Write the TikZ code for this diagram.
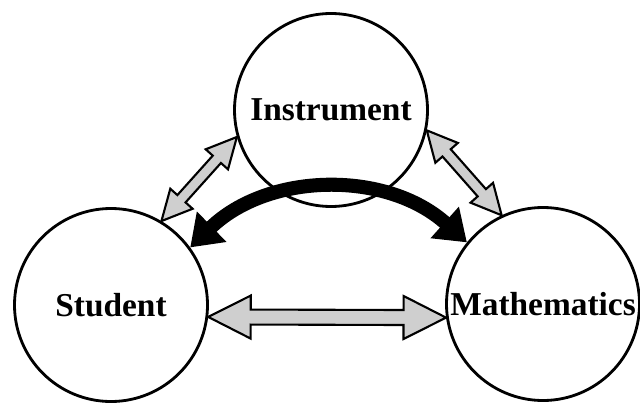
\documentclass[tikz,border=0pt]{standalone}
\usepackage{fontspec}
\setmainfont{Liberation Serif}
\usetikzlibrary{arrows.meta,positioning,calc}
\definecolor{grisflecha}{HTML}{CFCFCF}

% block arrow between two points: #1 start, #2 end, #3 head length, #4 head half width, #5 shaft half width
\newcommand{\grayarrow}[5]{%
  \filldraw[fill=grisflecha, draw=black, line width=1.2pt, line join=miter]
    (#1) -- ($(#1)!#3!(#2)!#4!90:(#2)$) -- ($(#1)!#3!(#2)!#5!90:(#2)$)
    -- ($(#2)!#3!(#1)!#5!90:(#2)$) -- ($(#2)!#3!(#1)!#4!90:(#2)$)
    -- (#2) -- ($(#2)!#3!(#1)!#4!-90:(#2)$) -- ($(#2)!#3!(#1)!#5!-90:(#2)$)
    -- ($(#1)!#3!(#2)!#5!-90:(#2)$) -- ($(#1)!#3!(#2)!#4!-90:(#2)$) -- cycle;
}

\begin{document}
\begin{tikzpicture}[
  ent/.style={
    circle, draw=black, line width=1.6pt, minimum size=3.86cm,
    inner sep=0pt, font=\fontsize{19}{22}\selectfont\bfseries
  },
  bigarr/.style={{Triangle[length=17pt, width=23pt]}-{Triangle[length=17pt, width=23pt]},
    line width=8pt, black}
]
  \useasboundingbox (0,0) rectangle (12.8,8.08);

  \node[ent] (ins) at (6.62,5.88) {Instrument};
  \node[ent] (stu) at (2.22,1.98) {Student};
  \node[ent] (mat) at (10.86,2.0) {Mathematics};

  % gray links
  \grayarrow{ins.196}{stu.59}{0.6cm}{0.3cm}{0.11cm}
  \grayarrow{ins.348}{mat.115}{0.6cm}{0.3cm}{0.11cm}
  \grayarrow{stu.353}{mat.188}{0.85cm}{0.43cm}{0.15cm}

  % black link
  \draw[bigarr] (stu.36) to[bend left=43] (mat.141);
\end{tikzpicture}
\end{document}
